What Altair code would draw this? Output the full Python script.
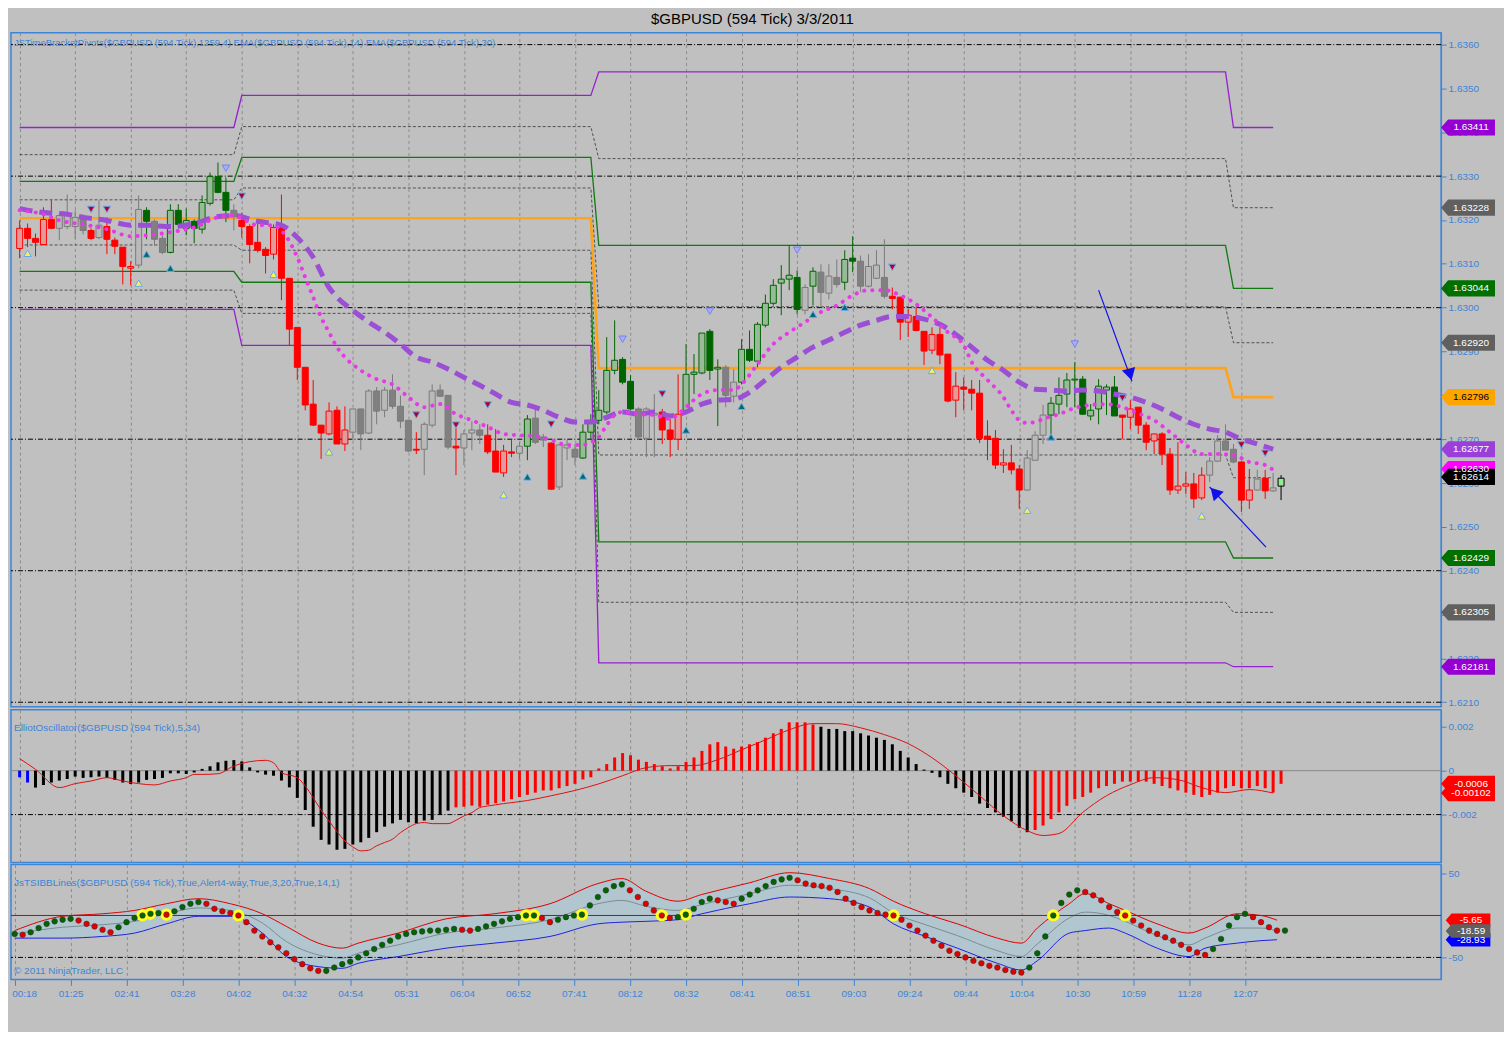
import altair as alt
import pandas as pd

FONT = "Liberation Sans"
BLUE = "#3d85d8"
BG = "#c0c0c0"

TITLE = "$GBPUSD (594 Tick)  3/3/2011"
PRICE_NAME = "JSTimeBracketPivots($GBPUSD (594 Tick),1259,4)  EMA($GBPUSD (594 Tick),14)  EMA($GBPUSD (594 Tick),30)"
OSC_NAME = "ElliotOscillator($GBPUSD (594 Tick),5,34)"
TSI_NAME = "JsTSIBBLines($GBPUSD (594 Tick),True,Alert4-way,True,3,20,True,14,1)"
COPY = "\u00a9 2011 NinjaTrader, LLC"

TIME_LABELS = ["00:18", "01:25", "02:41", "03:28", "04:02", "04:32", "04:54", "05:31",
               "06:04", "06:52", "07:41", "08:12", "08:32", "08:41", "08:51", "09:03",
               "09:24", "09:44", "10:04", "10:30", "10:59", "11:28", "12:07"]

OPEN = [
    1.63135, 1.63181, 1.63158, 1.63144, 1.63201, 1.63181, 1.63185, 1.63185, 1.63201, 1.63176,
    1.63160, 1.63185, 1.63154, 1.63138, 1.63090, 1.63097, 1.63222, 1.63197, 1.63158, 1.63126,
    1.63222, 1.63181, 1.63197, 1.63179, 1.63238, 1.63299, 1.63263, 1.63222, 1.63199, 1.63185,
    1.63149, 1.63133, 1.63122, 1.63190, 1.63067, 1.62955, 1.62864, 1.62780, 1.62732, 1.62712,
    1.62766, 1.62689, 1.62716, 1.62769, 1.62714, 1.62810, 1.62766, 1.62812, 1.62775, 1.62743,
    1.62677, 1.62677, 1.62732, 1.62812, 1.62800, 1.62684, 1.62680, 1.62714, 1.62721, 1.62709,
    1.62673, 1.62623, 1.62671, 1.62668, 1.62684, 1.62748, 1.62705, 1.62691, 1.62591, 1.62680,
    1.62677, 1.62657, 1.62716, 1.62743, 1.62762, 1.62857, 1.62882, 1.62832, 1.62769, 1.62702,
    1.62755, 1.62762, 1.62721, 1.62700, 1.62764, 1.62848, 1.62851, 1.62946, 1.62860, 1.62864,
    1.62798, 1.62830, 1.62905, 1.62878, 1.62960, 1.63010, 1.63056, 1.63065, 1.63069, 1.62994,
    1.63049, 1.63081, 1.63033, 1.63069, 1.63058, 1.63113, 1.63106, 1.63049, 1.63067, 1.63069,
    1.63026, 1.63024, 1.62967, 1.62980, 1.62946, 1.62903, 1.62939, 1.62894, 1.62789, 1.62819,
    1.62814, 1.62805, 1.62707, 1.62702, 1.62641, 1.62646, 1.62632, 1.62584, 1.62652, 1.62709,
    1.62755, 1.62780, 1.62803, 1.62835, 1.62837, 1.62753, 1.62769, 1.62812, 1.62819, 1.62755,
    1.62750, 1.62773, 1.62732, 1.62696, 1.62712, 1.62666, 1.62584, 1.62593, 1.62598, 1.62566,
    1.62618, 1.62650, 1.62696, 1.62677, 1.62648, 1.62561, 1.62584, 1.62611, 1.62582, 1.62593]
HIGH = [
    1.63199, 1.63192, 1.63169, 1.63229, 1.63245, 1.63215, 1.63258, 1.63222, 1.63213, 1.63181,
    1.63245, 1.63206, 1.63160, 1.63138, 1.63106, 1.63256, 1.63229, 1.63201, 1.63165, 1.63236,
    1.63236, 1.63226, 1.63201, 1.63256, 1.63308, 1.63331, 1.63297, 1.63236, 1.63217, 1.63190,
    1.63195, 1.63138, 1.63190, 1.63258, 1.63067, 1.62955, 1.62864, 1.62835, 1.62732, 1.62784,
    1.62775, 1.62775, 1.62769, 1.62769, 1.62814, 1.62819, 1.62819, 1.62848, 1.62800, 1.62743,
    1.62716, 1.62739, 1.62825, 1.62825, 1.62800, 1.62734, 1.62721, 1.62741, 1.62734, 1.62734,
    1.62723, 1.62687, 1.62698, 1.62693, 1.62755, 1.62769, 1.62712, 1.62693, 1.62687, 1.62698,
    1.62689, 1.62734, 1.62757, 1.62812, 1.62933, 1.62971, 1.62887, 1.62846, 1.62773, 1.62773,
    1.62803, 1.62769, 1.62746, 1.62848, 1.62917, 1.62894, 1.62942, 1.62951, 1.62882, 1.62869,
    1.62860, 1.62928, 1.62948, 1.62967, 1.63030, 1.63065, 1.63097, 1.63142, 1.63085, 1.63053,
    1.63092, 1.63099, 1.63099, 1.63110, 1.63131, 1.63163, 1.63119, 1.63122, 1.63131, 1.63156,
    1.63046, 1.63024, 1.62996, 1.63001, 1.62946, 1.62955, 1.62955, 1.62894, 1.62853, 1.62841,
    1.62835, 1.62835, 1.62743, 1.62721, 1.62677, 1.62687, 1.62641, 1.62675, 1.62718, 1.62778,
    1.62796, 1.62841, 1.62851, 1.62876, 1.62844, 1.62780, 1.62837, 1.62825, 1.62844, 1.62755,
    1.62789, 1.62773, 1.62739, 1.62712, 1.62716, 1.62680, 1.62693, 1.62625, 1.62623, 1.62636,
    1.62659, 1.62709, 1.62734, 1.62689, 1.62650, 1.62632, 1.62630, 1.62630, 1.62623, 1.62618]
LOW = [
    1.63113, 1.63138, 1.63117, 1.63142, 1.63179, 1.63154, 1.63179, 1.63158, 1.63167, 1.63154,
    1.63156, 1.63122, 1.63122, 1.63053, 1.63051, 1.63090, 1.63156, 1.63142, 1.63122, 1.63124,
    1.63181, 1.63165, 1.63147, 1.63169, 1.63233, 1.63261, 1.63195, 1.63176, 1.63160, 1.63101,
    1.63126, 1.63078, 1.63110, 1.63017, 1.62914, 1.62835, 1.62766, 1.62730, 1.62655, 1.62709,
    1.62689, 1.62673, 1.62698, 1.62675, 1.62712, 1.62734, 1.62750, 1.62769, 1.62725, 1.62671,
    1.62666, 1.62618, 1.62727, 1.62796, 1.62677, 1.62618, 1.62641, 1.62675, 1.62689, 1.62666,
    1.62625, 1.62614, 1.62659, 1.62655, 1.62652, 1.62689, 1.62682, 1.62584, 1.62584, 1.62652,
    1.62641, 1.62655, 1.62698, 1.62734, 1.62757, 1.62848, 1.62825, 1.62766, 1.62698, 1.62659,
    1.62659, 1.62689, 1.62659, 1.62675, 1.62757, 1.62803, 1.62848, 1.62835, 1.62730, 1.62773,
    1.62784, 1.62825, 1.62876, 1.62864, 1.62955, 1.63005, 1.62983, 1.63040, 1.62985, 1.62985,
    1.63005, 1.63001, 1.63019, 1.63046, 1.63040, 1.63081, 1.63035, 1.63046, 1.63065, 1.63021,
    1.62996, 1.62926, 1.62933, 1.62946, 1.62869, 1.62894, 1.62871, 1.62784, 1.62750, 1.62766,
    1.62766, 1.62691, 1.62652, 1.62632, 1.62623, 1.62620, 1.62541, 1.62582, 1.62652, 1.62689,
    1.62709, 1.62757, 1.62773, 1.62773, 1.62755, 1.62743, 1.62734, 1.62755, 1.62753, 1.62700,
    1.62723, 1.62712, 1.62675, 1.62666, 1.62641, 1.62573, 1.62575, 1.62575, 1.62543, 1.62561,
    1.62602, 1.62648, 1.62675, 1.62645, 1.62534, 1.62541, 1.62582, 1.62564, 1.62580, 1.62561]
CLOSE = [
    1.63181, 1.63158, 1.63149, 1.63201, 1.63181, 1.63210, 1.63210, 1.63206, 1.63176, 1.63158,
    1.63188, 1.63156, 1.63140, 1.63094, 1.63094, 1.63224, 1.63197, 1.63156, 1.63126, 1.63222,
    1.63190, 1.63199, 1.63181, 1.63240, 1.63299, 1.63263, 1.63222, 1.63208, 1.63185, 1.63144,
    1.63131, 1.63119, 1.63183, 1.63067, 1.62951, 1.62864, 1.62778, 1.62732, 1.62714, 1.62764,
    1.62689, 1.62721, 1.62769, 1.62712, 1.62810, 1.62764, 1.62812, 1.62775, 1.62741, 1.62673,
    1.62675, 1.62734, 1.62810, 1.62798, 1.62682, 1.62680, 1.62712, 1.62721, 1.62709, 1.62671,
    1.62625, 1.62673, 1.62668, 1.62684, 1.62746, 1.62693, 1.62698, 1.62586, 1.62687, 1.62687,
    1.62659, 1.62716, 1.62743, 1.62766, 1.62857, 1.62880, 1.62830, 1.62769, 1.62705, 1.62769,
    1.62759, 1.62721, 1.62700, 1.62757, 1.62848, 1.62853, 1.62942, 1.62857, 1.62864, 1.62800,
    1.62830, 1.62905, 1.62880, 1.62962, 1.63010, 1.63051, 1.63065, 1.63074, 1.62996, 1.63046,
    1.63083, 1.63035, 1.63072, 1.63053, 1.63110, 1.63106, 1.63049, 1.63094, 1.63097, 1.63026,
    1.63021, 1.62967, 1.62983, 1.62948, 1.62901, 1.62939, 1.62892, 1.62787, 1.62821, 1.62814,
    1.62805, 1.62702, 1.62700, 1.62641, 1.62646, 1.62630, 1.62584, 1.62657, 1.62709, 1.62755,
    1.62782, 1.62800, 1.62835, 1.62837, 1.62757, 1.62766, 1.62821, 1.62819, 1.62753, 1.62750,
    1.62769, 1.62732, 1.62693, 1.62712, 1.62666, 1.62584, 1.62593, 1.62598, 1.62564, 1.62618,
    1.62650, 1.62696, 1.62675, 1.62648, 1.62561, 1.62584, 1.62609, 1.62582, 1.62589, 1.62611]

# bar trend state (r = red, n = neutral gray, g = green, c = current bar), as runs
TREND_RUNS = [("r", 5), ("n", 4), ("r", 1), ("n", 1), ("r", 4), ("n", 1), ("g", 1), ("n", 2),
              ("g", 8), ("n", 1), ("r", 14), ("n", 8), ("r", 1), ("n", 4), ("r", 1), ("n", 3),
              ("r", 4), ("n", 1), ("g", 1), ("n", 2), ("r", 1), ("n", 3), ("g", 7), ("n", 3),
              ("r", 3), ("g", 5), ("n", 2), ("g", 8), ("n", 1), ("g", 1), ("n", 3), ("g", 2),
              ("n", 4), ("r", 17), ("n", 3), ("g", 9), ("r", 11), ("n", 4), ("r", 2), ("n", 1),
              ("r", 1), ("n", 1), ("c", 1)]

FAST_EMA = [(0, 1.63222), (3, 1.63213), (5, 1.63199), (8, 1.63190), (11, 1.63179), (14, 1.63163),
            (16, 1.63165), (19, 1.63172), (22, 1.63183), (25, 1.63206), (27, 1.63210), (30, 1.63188),
            (32, 1.63188), (33, 1.63176), (35, 1.63115), (36, 1.63069), (37, 1.63024), (38, 1.62978),
            (39, 1.62944), (40, 1.62910), (41, 1.62887), (43, 1.62857), (45, 1.62837), (47, 1.62825),
            (49, 1.62796), (51, 1.62773), (53, 1.62780), (55, 1.62757), (57, 1.62743), (59, 1.62728),
            (61, 1.62712), (63, 1.62709), (65, 1.62707), (67, 1.62698), (69, 1.62687), (71, 1.62687),
            (72, 1.62693), (73, 1.62705), (74, 1.62732), (75, 1.62755), (76, 1.62762), (78, 1.62757),
            (80, 1.62755), (82, 1.62746), (83, 1.62757), (84, 1.62773), (86, 1.62803), (88, 1.62812),
            (90, 1.62812), (91, 1.62825), (93, 1.62871), (95, 1.62917), (97, 1.62944), (99, 1.62967),
            (101, 1.62990), (103, 1.63005), (105, 1.63028), (107, 1.63040), (109, 1.63040),
            (111, 1.63028), (113, 1.63008), (115, 1.62978), (117, 1.62944), (119, 1.62914),
            (120, 1.62876), (122, 1.62835), (124, 1.62796), (125, 1.62766), (126, 1.62743),
            (127, 1.62737), (128, 1.62739), (129, 1.62746), (131, 1.62757), (133, 1.62771),
            (135, 1.62778), (137, 1.62780), (139, 1.62773), (141, 1.62759), (143, 1.62743),
            (145, 1.62716), (147, 1.62687), (149, 1.62666), (151, 1.62666), (153, 1.62664),
            (155, 1.62648), (157, 1.62641), (158, 1.62630)]
SLOW_EMA = [(0, 1.63226), (3, 1.63217), (6, 1.63213), (8, 1.63206), (11, 1.63199), (14, 1.63188),
            (16, 1.63188), (19, 1.63185), (22, 1.63192), (25, 1.63208), (27, 1.63210), (30, 1.63197),
            (33, 1.63188), (35, 1.63160), (37, 1.63115), (39, 1.63046), (40, 1.63024), (42, 1.62994),
            (44, 1.62967), (46, 1.62944), (48, 1.62917), (50, 1.62887), (52, 1.62876), (54, 1.62860),
            (56, 1.62841), (58, 1.62823), (60, 1.62803), (62, 1.62784), (64, 1.62778), (66, 1.62766),
            (68, 1.62750), (70, 1.62739), (72, 1.62739), (74, 1.62750), (76, 1.62762), (78, 1.62757),
            (80, 1.62762), (82, 1.62753), (84, 1.62762), (86, 1.62780), (88, 1.62789), (90, 1.62791),
            (92, 1.62807), (94, 1.62835), (96, 1.62864), (98, 1.62887), (100, 1.62910), (102, 1.62926),
            (104, 1.62944), (106, 1.62960), (108, 1.62971), (110, 1.62980), (112, 1.62980),
            (114, 1.62974), (116, 1.62962), (118, 1.62939), (120, 1.62910), (122, 1.62880),
            (124, 1.62857), (126, 1.62830), (128, 1.62814), (130, 1.62812), (132, 1.62810),
            (134, 1.62812), (136, 1.62810), (138, 1.62803), (140, 1.62796), (142, 1.62784),
            (144, 1.62769), (146, 1.62750), (148, 1.62734), (150, 1.62723), (152, 1.62716),
            (154, 1.62700), (156, 1.62689), (158, 1.62677)]

# pivot sessions: first and last bar of each session
SESSION_START = [0, 28, 73, 153]
SESSION_END = [27, 72, 152, 158]
PIVOTS = {
    "R2": [1.63411, 1.63484, 1.63538, 1.63411],
    "M4": [1.63349, 1.63413, 1.63340, 1.63228],
    "R1": [1.63288, 1.63343, 1.63142, 1.63044],
    "M3": [1.63246, 1.63273, 1.63002, 1.62920],
    "PP": [1.63204, 1.63204, 1.62862, 1.62796],
    "M2": [1.63143, 1.63131, 1.62664, 1.62612],
    "S1": [1.63083, 1.63058, 1.62466, 1.62429],
    "M1": [1.63040, 1.62987, 1.62328, 1.62305],
    "S2": [1.62996, 1.62914, 1.62190, 1.62181],
}

TRI_UP_YELLOW = [(1, 1.63124), (15, 1.63056), (32, 1.63076), (39, 1.62671), (61, 1.62573),
                 (115, 1.62857), (127, 1.62538), (149, 1.62525)]
TRI_UP_TEAL = [(16, 1.63122), (19, 1.63090), (64, 1.62614), (71, 1.62616), (84, 1.62721),
               (91, 1.62775), (100, 1.62985), (104, 1.63001), (130, 1.62705)]
TRI_DN_RED = [(9, 1.63224), (11, 1.63224), (28, 1.63254), (50, 1.62755), (55, 1.62732),
              (59, 1.62778), (67, 1.62734), (81, 1.62803), (110, 1.63092), (139, 1.62794),
              (154, 1.62687), (157, 1.62668)]
TRI_DN_LAV = [(26, 1.63318), (76, 1.62928), (87, 1.62992), (98, 1.63131), (133, 1.62917)]

# hand-drawn arrows: (bar0, price0, bar1, price1) tip at bar1/price1
ARROWS = [(136.0, 1.63040, 140.2, 1.62832), (157.1, 1.62454, 150.0, 1.62591)]
ARROW_HEADS = [(139.9, 1.62852, 165), (150.8, 1.62576, 316)]

PRICE_TAGS = [(1.63411, "1.63411", "#9400d3", "white"), (1.63228, "1.63228", "#606060", "white"),
              (1.63044, "1.63044", "#007000", "white"), (1.62920, "1.62920", "#606060", "white"),
              (1.62796, "1.62796", "#ffa500", "black"), (1.62677, "1.62677", "#9a40d8", "white"),
              (1.62632, "1.62630", "#ff00ff", "white"), (1.62614, "1.62614", "#000000", "white"),
              (1.62429, "1.62429", "#007000", "white"), (1.62305, "1.62305", "#606060", "white"),
              (1.62181, "1.62181", "#9400d3", "white")]

OSC = [
    -0.0003, -0.00054, -0.00077, -0.00065, -0.00054, -0.00045, -0.00038, -0.00027, -0.00033, -0.0003,
    -0.00027, -0.00033, -0.00042, -0.00054, -0.00061, -0.00054, -0.00042, -0.00038, -0.00033, -0.00012,
    -0.00012, -0.00015, -0.00008, 0.00008, 0.0002, 0.00038, 0.00045, 0.00048, 0.00042, 0.00015,
    -0.00008, -0.00018, -0.00023, -0.00045, -0.00076, -0.00124, -0.00179, -0.00255, -0.00315, -0.00336,
    -0.0036, -0.00356, -0.00336, -0.00326, -0.00306, -0.0028, -0.00255, -0.0024, -0.00224, -0.00235,
    -0.0024, -0.00227, -0.00224, -0.002, -0.00182, -0.00167, -0.00164, -0.00159, -0.00164, -0.00155,
    -0.00148, -0.0014, -0.0013, -0.0012, -0.0011, -0.001, -0.0009, -0.0009, -0.0008, -0.0007,
    -0.0006, -0.0004, -0.0003, 0.0001, 0.0003, 0.0006, 0.0008, 0.0007, 0.0005, 0.0004,
    0.0003, 0.0002, 0.0001, 0.0002, 0.0004, 0.0006, 0.0009, 0.0012, 0.0013, 0.0011,
    0.001, 0.0011, 0.0012, 0.0013, 0.0015, 0.0017, 0.0019, 0.0022, 0.0022, 0.0022,
    0.0021, 0.002, 0.0019, 0.0019, 0.0018, 0.0018, 0.0017, 0.0016, 0.0015, 0.0014,
    0.0012, 0.0009, 0.0006, 0.0003, 0.00005, -0.0001, -0.0003, -0.0006, -0.0008, -0.001,
    -0.0012, -0.0015, -0.0017, -0.0019, -0.0021, -0.0023, -0.0026, -0.0028, -0.0027, -0.0025,
    -0.0022, -0.0019, -0.0016, -0.0013, -0.0012, -0.001, -0.0008, -0.0007, -0.0006, -0.0005,
    -0.0005, -0.0005, -0.0005, -0.0006, -0.0007, -0.0008, -0.0009, -0.001, -0.0011, -0.0012,
    -0.0011, -0.001, -0.0008, -0.0007, -0.0008, -0.0008, -0.0007, -0.0008, -0.001, -0.0006]
OSC_COLOR_RUNS = [("#0000ff", 2), ("#000000", 53), ("#ff0000", 46), ("#000000", 27), ("#ff0000", 32)]
OSC_SIGNAL = [(0, 0.00055), (2, 0.00006), (5, -0.00077), (7, -0.00059), (9, -0.00047), (11, -0.00032),
              (13, -0.00047), (15, -0.00059), (17, -0.00065), (19, -0.00047), (21, -0.00032),
              (22, -0.00017), (23, -0.00017), (25, -0.00014), (27, 0.00021), (29, 0.00041),
              (31, 0.00047), (32, 0.00036), (33, -0.00009), (35, -0.00032), (36, -0.0007),
              (37, -0.00123), (38, -0.0018), (39, -0.00229), (40, -0.00277), (41, -0.0032),
              (42, -0.00347), (43, -0.00365), (44, -0.00362), (45, -0.00342), (46, -0.00327),
              (47, -0.00312), (48, -0.00282), (49, -0.00259), (50, -0.00241), (51, -0.00236),
              (52, -0.00241), (54, -0.00241), (55, -0.00226), (56, -0.00206), (57, -0.00191),
              (58, -0.00168), (59, -0.00161), (61, -0.0015), (64, -0.00136), (67, -0.00114),
              (70, -0.0009), (73, -0.0006), (76, -0.00023), (79, 0.00014), (82, 0.00023),
              (85, 0.00023), (88, 0.0005), (91, 0.00095), (94, 0.0014), (97, 0.00186),
              (100, 0.00214), (103, 0.00214), (106, 0.00195), (109, 0.00164), (112, 0.00123),
              (115, 0.00059), (118, -0.00023), (121, -0.00114), (124, -0.00205), (127, -0.00273),
              (129, -0.00295), (131, -0.00286), (134, -0.0019), (137, -0.00114), (140, -0.00064),
              (143, -0.00032), (146, -0.00041), (149, -0.00077), (152, -0.001), (155, -0.00086),
              (158, -0.00102)]
OSC_TAGS = [(-0.00102, "-0.00102", "#ff0000", "white"), (-0.0006, "-0.0006", "#ff0000", "white")]

TSI = [
    -22, -23, -20, -15, -10, -7, -5, -4, -6, -10,
    -13, -17, -20, -14, -8, -3, 0, 2, 3, 1,
    5, 10, 14, 16, 14, 8, 5, 3, 0, -8,
    -18, -25, -32, -38, -45, -52, -58, -63, -66, -66,
    -62, -58, -55, -50, -45, -40, -35, -30, -25, -22,
    -20, -19, -18, -18, -17, -16, -17, -18, -16, -13,
    -10, -7, -4, -2, 0, 0, -3, -8, -5, -2,
    0, 1, 12, 22, 30, 35, 37, 30, 22, 14,
    6, 0, -3, -2, 1, 8, 16, 20, 18, 16,
    14, 20, 25, 30, 35, 40, 43, 45, 42, 38,
    36, 35, 33, 28, 20, 15, 10, 6, 3, 1,
    0, -5, -12, -18, -24, -30, -36, -42, -46, -50,
    -54, -57, -60, -62, -65, -67, -68, -62, -45, -25,
    0, 15, 25, 30, 28, 24, 18, 10, 4, 0,
    -6, -12, -18, -22, -26, -30, -35, -40, -44, -47,
    -40, -28, -12, -2, 2, -2, -8, -14, -18, -18]
TSI_ZERO_CROSS = [16, 17, 19, 28, 64, 65, 71, 81, 84, 110, 130, 139]
# (bar, upper band, middle, lower band)
TSI_BANDS = [(0, -18, -22, -27), (6, -1, -14, -27), (11, 2, -11, -25), (15, 6, -7, -21),
             (19, 14, 2, -10), (23, 20, 9, -1), (27, 14, 6, -1), (31, 2, -9, -21),
             (34, -13, -31, -49), (38, -33, -47, -61), (41, -39, -51, -63), (43, -33, -45, -57),
             (48, -21, -35, -49), (54, -4, -21, -39), (60, 2, -15, -33), (67, 14, -5, -25),
             (73, 38, 14, -10), (76, 44, 18, -8), (79, 29, 11, -7), (83, 17, 6, -5),
             (86, 25, 13, 2), (92, 39, 26, 14), (97, 51, 36, 22), (102, 44, 32, 20),
             (107, 32, 21, 10), (110, 17, 3, -10), (114, 2, -11, -25), (118, -10, -24, -39),
             (123, -27, -42, -57), (126, -33, -49, -65), (128, -15, -34, -54), (132, 14, -3, -21),
             (134, 26, 4, -18), (137, 14, 0, -15), (139, 6, -7, -21), (143, -10, -24, -39),
             (147, -21, -35, -49), (149, -15, -27, -39), (153, 2, -15, -33), (156, 0, -15, -30),
             (158, -5.65, -18.59, -28.93)]
TSI_TAGS = [(-5.65, "-5.65", "#ff0000", "white"), (-28.93, "-28.93", "#0000ff", "white"),
            (-18.59, "-18.59", "#606060", "white")]

# ---------------- styling ----------------
FILL = {"rd": "#ff0000", "ru": "#e49a9a", "gd": "#006400", "gu": "#98ba98",
        "nd": "#808080", "nu": "#b9b9b9", "c": "#90ee90"}
STROKE = {"rd": "#ff0000", "ru": "#ff0000", "gd": "#006400", "gu": "#006400",
          "nd": "#7a7a7a", "nu": "#7a7a7a", "c": "#000000"}

PLOT_W = 1432
H_PRICE, H_OSC, H_TSI = 675, 153, 115
TAG_X = PLOT_W + 27
TAG_SHAPE = "M-1,0L-0.74,-0.3L1,-0.3L1,0.3L-0.74,0.3Z"

n = len(OPEN)
trend = []
for t, k in TREND_RUNS:
    trend += [t] * k
osc_color = []
for c, k in OSC_COLOR_RUNS:
    osc_color += [c] * k

style = []
for o, c, t in zip(OPEN, CLOSE, trend):
    style.append("c" if t == "c" else t + ("u" if c >= o else "d"))

candles = pd.DataFrame({
    "bar": list(range(n)), "open": OPEN, "high": HIGH, "low": LOW, "close": CLOSE,
    "lo": [min(a, b) for a, b in zip(OPEN, CLOSE)],
    "hi": [max(a, b) for a, b in zip(OPEN, CLOSE)],
    "fill": [FILL[s] for s in style], "stroke": [STROKE[s] for s in style],
})

xs = alt.Scale(domain=[-0.46, 178.54], nice=False, zero=False)
TICKS = [7 * k for k in range(len(TIME_LABELS))]
label_expr = "[" + ",".join("'%s'" % t for t in TIME_LABELS) + "][round(datum.value / 7)]"
grid_x = alt.Axis(values=TICKS, labels=False, ticks=False, domain=False, grid=True,
                  gridDash=[3, 3], gridColor="#8c8c8c", title=None)
bottom_x = alt.Axis(values=TICKS, labelExpr=label_expr, grid=True, gridDash=[3, 3],
                    gridColor="#8c8c8c", title=None, tickColor=BLUE, domainColor=BLUE,
                    labelColor=BLUE, tickSize=6, labelPadding=3, labelFontSize=10,
                    labelFont=FONT, domain=False,
                    labelAlign={"condition": {"test": "datum.value == 0", "value": "left"},
                                "value": "center"},
                    labelOffset={"condition": {"test": "datum.value == 0", "value": -3},
                                 "value": 0})


def axis_y(values, expr=None, fmt=None):
    kw = dict(orient="right", values=values, grid=False, title=None, labelColor=BLUE,
              tickColor=BLUE, domainColor=BLUE, tickSize=5, labelFontSize=10, labelFont=FONT,
              labelOverlap=False, labelFlush=False, labelPadding=2)
    if expr:
        kw["labelExpr"] = expr
    if fmt:
        kw["format"] = fmt
    return alt.Axis(**kw)


ps = alt.Scale(domain=[1.620897, 1.636273], nice=False, zero=False)
price_ax = axis_y([round(1.621 + 0.001 * k, 4) for k in range(16)], fmt=".4f")
os_ = alt.Scale(domain=[-0.0041818, 0.0027727], nice=False, zero=False)
osc_ax = axis_y([-0.002, 0, 0.002],
                expr="datum.value == 0 ? '0' : (datum.value < 0 ? '-' : '') + format(abs(datum.value), '.3f')")
ts = alt.Scale(domain=[-76.19, 60.71], nice=False, zero=False)
tsi_ax = axis_y([-50, 50], expr="(datum.value < 0 ? '-' : '') + format(abs(datum.value), 'd')")


def X(field, axis):
    return alt.X(field + ":Q", scale=xs, axis=axis)


def PY(field):
    return alt.Y(field + ":Q", scale=ps, axis=price_ax)


def OY(field):
    return alt.Y(field + ":Q", scale=os_, axis=osc_ax)


def TY(field):
    return alt.Y(field + ":Q", scale=ts, axis=tsi_ax)


def tags_layer(rows, yenc, size=2916):
    df = pd.DataFrame(rows, columns=["val", "txt", "bg", "fg"])
    base = alt.Chart(df)
    shape = base.mark_point(shape=TAG_SHAPE, size=size, filled=True, opacity=1).encode(
        x=alt.value(TAG_X), y=yenc("val"), fill=alt.Fill("bg:N", scale=None))
    txt = base.mark_text(fontSize=10, font=FONT, dx=3, align="center", baseline="middle").encode(
        x=alt.value(TAG_X), y=yenc("val"), text="txt:N", color=alt.Color("fg:N", scale=None))
    return [shape, txt]


def label_layer(text, ypix, size=10):
    return alt.Chart(pd.DataFrame({"t": [text]})).mark_text(
        align="left", baseline="middle", fontSize=size, font=FONT, color=BLUE).encode(
        x=alt.value(3), y=alt.value(ypix), text="t:N")


# ---------------- price panel ----------------
grid_levels = pd.DataFrame({"p": [1.6360, 1.6330, 1.6300, 1.6270, 1.6240, 1.6210]})
grid_rules = alt.Chart(grid_levels).mark_rule(color="black", strokeDash=[5, 2, 1, 2], strokeWidth=1).encode(
    y=PY("p"))

piv_rows = []
for name, vals in PIVOTS.items():
    for s in range(4):
        piv_rows.append({"level": name, "bar": SESSION_START[s], "p": vals[s]})
        piv_rows.append({"level": name, "bar": SESSION_END[s], "p": vals[s]})
piv = pd.DataFrame(piv_rows)
PIV_STYLE = {
    "purple": (["R2", "S2"], dict(color="#9620d0", strokeWidth=1.3)),
    "green": (["R1", "S1"], dict(color="#107a10", strokeWidth=1.3)),
    "orange": (["PP"], dict(color="#ffa31a", strokeWidth=2.6)),
    "gray": (["M1", "M2", "M3", "M4"], dict(color="#505050", strokeWidth=1, strokeDash=[3, 2])),
}
piv_layers = []
for key, (levels, props) in PIV_STYLE.items():
    piv_layers.append(
        alt.Chart(piv[piv["level"].isin(levels)]).mark_line(**props).encode(
            x=X("bar", grid_x), y=PY("p"), detail="level:N", order="bar:Q"))

wicks = alt.Chart(candles).mark_rule(strokeWidth=1).encode(
    x=X("bar", grid_x), y=PY("low"), y2="high:Q", color=alt.Color("stroke:N", scale=None))
bodies = alt.Chart(candles).mark_bar(size=6, strokeWidth=1).encode(
    x=X("bar", grid_x), y=PY("lo"), y2="hi:Q",
    fill=alt.Fill("fill:N", scale=None), stroke=alt.Stroke("stroke:N", scale=None))

slow = alt.Chart(pd.DataFrame(SLOW_EMA, columns=["bar", "p"])).mark_line(
    color="#9b4fd4", strokeWidth=5, strokeDash=[13, 7], interpolate="monotone").encode(
    x=X("bar", grid_x), y=PY("p"))
fast = alt.Chart(pd.DataFrame(FAST_EMA, columns=["bar", "p"])).mark_line(
    color="#e63ae6", strokeWidth=4, strokeDash=[0.1, 8], strokeCap="round",
    interpolate="monotone").encode(x=X("bar", grid_x), y=PY("p"))


def tri(rows, shape, fill, stroke):
    return alt.Chart(pd.DataFrame(rows, columns=["bar", "p"])).mark_point(
        shape=shape, size=55, filled=True, fill=fill, stroke=stroke, strokeWidth=1,
        opacity=1).encode(x=X("bar", grid_x), y=PY("p"))


tris = [tri(TRI_UP_YELLOW, "triangle-up", "#f2f25a", "#6aa8f0"),
        tri(TRI_UP_TEAL, "triangle-up", "#006a6a", "#6aa8f0"),
        tri(TRI_DN_RED, "triangle-down", "#b0002a", "#6aa8f0"),
        tri(TRI_DN_LAV, "triangle-down", "#b4a8f4", "#6a8af0")]

arr = pd.DataFrame(ARROWS, columns=["b0", "p0", "b1", "p1"])
arrow_lines = alt.Chart(arr).mark_rule(color="#1010e8", strokeWidth=1.2).encode(
    x=X("b0", grid_x), x2="b1:Q", y=PY("p0"), y2="p1:Q")
heads = pd.DataFrame(ARROW_HEADS, columns=["bar", "p", "ang"])
arrow_heads = alt.Chart(heads).mark_point(shape="triangle", size=190, filled=True,
                                          color="#1010e8", opacity=1).encode(
    x=X("bar", grid_x), y=PY("p"), angle=alt.Angle("ang:Q", scale=None))

price = alt.layer(
    grid_rules, *piv_layers, wicks, bodies, slow, fast, *tris, arrow_lines, arrow_heads,
    *tags_layer(PRICE_TAGS, PY), label_layer(PRICE_NAME, 10, 9.5)
).properties(width=PLOT_W, height=H_PRICE)

# ---------------- oscillator panel ----------------
osc_df = pd.DataFrame({"bar": list(range(n)), "v": OSC, "zero": [0.0] * n, "col": osc_color})
osc_zero = alt.Chart(pd.DataFrame({"v": [0.0]})).mark_rule(color="#8a8a8a", strokeWidth=1).encode(y=OY("v"))
osc_m2 = alt.Chart(pd.DataFrame({"v": [-0.002]})).mark_rule(color="black", strokeDash=[5, 2, 1, 2]).encode(
    y=OY("v"))
osc_bars = alt.Chart(osc_df).mark_bar(size=3).encode(
    x=X("bar", grid_x), y=OY("v"), y2="zero:Q", color=alt.Color("col:N", scale=None))
osc_sig = alt.Chart(pd.DataFrame(OSC_SIGNAL, columns=["bar", "v"])).mark_line(
    color="#e01010", strokeWidth=1, interpolate="monotone").encode(x=X("bar", grid_x), y=OY("v"))
osc = alt.layer(osc_zero, osc_m2, osc_bars, osc_sig, *tags_layer(OSC_TAGS, OY),
                label_layer(OSC_NAME, 18)).properties(width=PLOT_W, height=H_OSC)

# ---------------- TSI panel ----------------
tsi_df = pd.DataFrame({"bar": list(range(n)), "v": TSI})
tsi_df["col"] = ["#006400" if (i == 0 or TSI[i] >= TSI[i - 1]) else "#e00000" for i in range(n)]
band = pd.DataFrame(TSI_BANDS, columns=["bar", "up", "mid", "lo"])
band_fill = alt.Chart(band).mark_area(color="#b2c6cf", opacity=1, interpolate="monotone").encode(
    x=X("bar", bottom_x), y=TY("up"), y2="lo:Q")
band_up = alt.Chart(band).mark_line(color="#e00000", strokeWidth=1, interpolate="monotone").encode(
    x=X("bar", bottom_x), y=TY("up"))
band_lo = alt.Chart(band).mark_line(color="#2020e0", strokeWidth=1, interpolate="monotone").encode(
    x=X("bar", bottom_x), y=TY("lo"))
band_mid = alt.Chart(band).mark_line(color="#7d8c90", strokeWidth=1, interpolate="monotone").encode(
    x=X("bar", bottom_x), y=TY("mid"))
tsi_zero = alt.Chart(pd.DataFrame({"v": [0]})).mark_rule(color="#d00000", strokeWidth=1).encode(y=TY("v"))
tsi_m50 = alt.Chart(pd.DataFrame({"v": [-50]})).mark_rule(color="black", strokeDash=[5, 2, 1, 2]).encode(
    y=TY("v"))
yellow = alt.Chart(tsi_df[tsi_df["bar"].isin(TSI_ZERO_CROSS)]).mark_circle(
    size=150, color="#ffff20", opacity=1).encode(x=X("bar", bottom_x), y=TY("v"))
dots = alt.Chart(tsi_df).mark_circle(size=32, opacity=1, stroke="#303030", strokeWidth=0.5).encode(
    x=X("bar", bottom_x), y=TY("v"), color=alt.Color("col:N", scale=None))
tsi = alt.layer(band_fill, band_up, band_lo, band_mid, tsi_zero, tsi_m50, yellow, dots,
                *tags_layer(TSI_TAGS, TY, size=2000), label_layer(TSI_NAME, 18),
                label_layer(COPY, H_TSI - 8)).properties(width=PLOT_W, height=H_TSI)

chart = alt.vconcat(price, osc, tsi, spacing=0).properties(
    title=alt.TitleParams(TITLE, fontSize=15, font=FONT, color="black", fontWeight="normal",
                          anchor="middle", offset=5)
).configure(
    background=BG, padding={"left": 0, "top": 3, "right": 8, "bottom": 32}
).configure_view(stroke=BLUE, strokeWidth=1.5)

chart.save("out.html", embed_options={"renderer": "svg", "actions": False})
